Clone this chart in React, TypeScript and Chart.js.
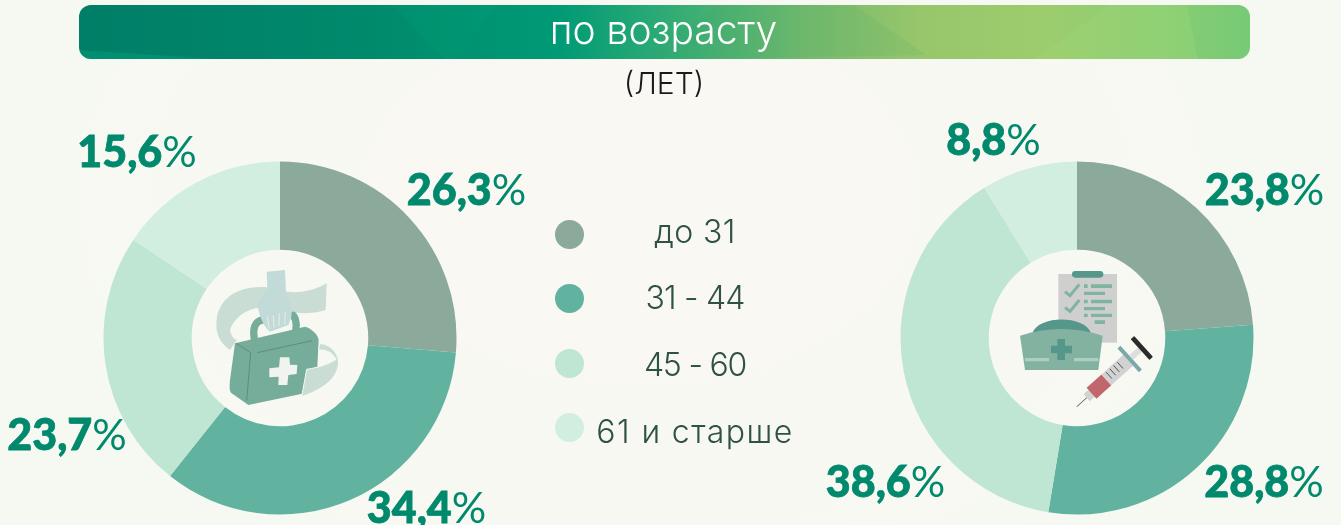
import React, { useEffect, useRef } from "react";
import { Chart, registerables } from "chart.js";

Chart.register(...registerables);

const titleText = "по возрасту";
const subtitleText = "(ЛЕТ)";
const categories = ["до 31", "31 - 44", "45 - 60", "61 и старше"];
const leftValues = [26.3, 34.4, 23.7, 15.6];
const rightValues = [23.8, 28.8, 38.6, 8.8];
const sliceColors = ["#8CAA9C", "#62B2A0", "#BFE5D3", "#D2EEE0"];

const leftLabelSpots = [[466.5, 188], [426.5, 506], [67, 433], [137, 150]];
const rightLabelSpots = [[1264.5, 188], [1264, 480], [885.5, 480], [993.5, 138]];
const legendRows = [234, 298, 363, 427];
const legendTextRows = [232, 298, 365, 432];
const legendTracking = [0.4, -0.8, -1.2, 1.4];

const FONT = "Lato, 'Open Sans', sans-serif";

function Donut({ values, cx }: { values: number[]; cx: number }) {
  const ref = useRef<HTMLCanvasElement>(null);
  useEffect(() => {
    const chart = new Chart(ref.current!, {
      type: "doughnut",
      data: {
        labels: categories,
        datasets: [{ data: values, backgroundColor: sliceColors, borderWidth: 0 }],
      },
      options: {
        animation: false,
        responsive: false,
        cutout: "50%",
        radius: 176.5,
        layout: { padding: 0 },
        plugins: { legend: { display: false }, tooltip: { enabled: false } },
      },
    });
    return () => chart.destroy();
  }, [values]);
  return (
    <canvas
      ref={ref}
      width={360}
      height={360}
      style={{ position: "absolute", left: cx - 180, top: 337.5 - 180, width: 360, height: 360 }}
    />
  );
}

function ValueLabel({ value, at }: { value: number; at: number[] }) {
  return (
    <div
      style={{
        position: "absolute",
        left: at[0],
        top: at[1],
        transform: "translate(-50%,-50%)",
        whiteSpace: "nowrap",
        color: "#00896D",
        fontSize: 43,
        lineHeight: "43px",
        fontFamily: FONT,
      }}
    >
      <span style={{ fontWeight: 900, WebkitTextStroke: "0.8px #00896D" }}>{value.toFixed(1).replace(".", ",")}</span>
      <span style={{ fontWeight: 400 }}>%</span>
    </div>
  );
}

function CaseIcon() {
  return (
    <svg viewBox="0 0 600 540" width={200} height={180} style={{ position: "absolute", left: 180, top: 250 }}>
      <path d="M440 100 L437 180 C380 197 330 190 290 172 C225 165 170 185 150 240 C155 262 165 272 172 268 L150 300 C120 280 105 250 110 210 C115 150 170 105 260 112 C330 135 390 130 440 100 Z" fill="#C9DDD5" />
      <path d="M225 275 C215 235 225 212 250 210 M343 258 C352 235 350 210 340 196" stroke="#76AD9A" strokeWidth="22" fill="none" strokeLinecap="round" />
      <path d="M260 65 L315 60 L318 130 C335 170 340 190 330 212 L325 225 L270 245 C250 230 235 190 233 165 C240 145 258 120 262 115 Z" fill="#C2DAD8" />
      <path d="M262 200 L268 238 M280 195 L282 232 M298 190 L297 228 M316 185 L314 222" stroke="#E6EFEA" strokeWidth="3" />
      <path d="M165 280 L375 230 C395 235 415 255 416 270 L412 350 L395 425 L205 465 L155 430 C148 425 148 410 150 390 Z" fill="#76AD9A" />
      <path d="M168 280 L212 308 L200 452 M232 308 L396 272" stroke="#55796C" strokeWidth="2" fill="none" />
      <path d="M300 322 L328 322 L330 344 L352 345 L350 372 L325 375 L322 405 L295 405 L296 380 L268 382 L268 355 L297 352 Z" fill="#F1F3EF" />
      <path d="M420 280 C460 285 480 320 475 345 C470 380 440 415 365 440 L380 358 C420 352 450 340 468 328 C455 305 440 300 415 300 Z" fill="#C9DDD5" stroke="#F6F9F2" strokeWidth="3" />
    </svg>
  );
}

function NurseIcon() {
  return (
    <svg viewBox="0 0 600 540" width={200} height={180} style={{ position: "absolute", left: 980, top: 250 }}>
      <rect x="235" y="72" width="176" height="206" fill="#CFCFCF" />
      <rect x="276" y="63" width="94" height="20" rx="10" fill="#55978A" />
      <path d="M255 125 L270 137 L298 103 M255 172 L270 184 L298 150" stroke="#7FB4A0" strokeWidth="9" fill="none" />
      <path d="M312 103 h11 v11 h-11 z M333 103 h63 v11 h-63 z M312 125 h63 v10 h-63 z M312 149 h11 v11 h-11 z M333 149 h63 v11 h-63 z M312 171 h63 v10 h-63 z M312 191 h11 v10 h-11 z M333 191 h63 v10 h-63 z M344 211 h31 v11 h-31 z" fill="#7FB4A0" />
      <path d="M157 250 C175 195 315 195 333 250 Z" fill="#55978A" />
      <path d="M120 257 C200 230 290 230 368 257 L355 360 L135 360 Z" fill="#83B3A0" />
      <path d="M232 267 h23 v20 h21 v23 h-21 v20 h-23 v-20 h-19 v-23 h19 z" fill="#55978A" />
      <path d="M135 324 h72 v10 h-72 z M282 324 h73 v10 h-73 z" fill="#ABCFC3" />
      <g transform="translate(290 470) rotate(-42)">
        <rect x="0" y="-1" width="48" height="2.5" fill="#555" />
        <rect x="40" y="-14" width="28" height="28" fill="#D2D2D2" />
        <rect x="60" y="-22" width="60" height="44" fill="#C0666C" />
        <rect x="120" y="-22" width="88" height="44" fill="#D2D2D2" />
        <path d="M135 -18 v26 M150 -18 v26 M165 -18 v26 M180 -18 v26" stroke="#444" strokeWidth="2.5" />
        <rect x="208" y="-48" width="12" height="96" fill="#7BA8A8" />
        <rect x="220" y="-9" width="38" height="18" fill="#DEDEDE" />
        <rect x="256" y="-42" width="14" height="84" rx="2" fill="#2B2B2B" />
      </g>
    </svg>
  );
}

function BannerFacets() {
  return (
    <svg viewBox="0 0 1171 54" width={1171} height={54} style={{ position: "absolute", left: 0, top: 0 }}>
      <polygon points="0,45 0,54 135,54" fill="#00A57E" opacity="0.45" />
      <polygon points="314,0 417,0 378,54 365,54" fill="#00A47C" opacity="0.18" />
      <polygon points="775,0 847,50 560,54 640,0" fill="#3C9A5E" opacity="0.1" />
      <polygon points="954,54 1031,0 1108,0 1119,54" fill="#A4DA7A" opacity="0.22" />
      <polygon points="1108,0 1171,0 1171,54 1119,54" fill="#6FC878" opacity="0.12" />
    </svg>
  );
}

export default function App() {
  return (
    <div
      style={{
        position: "fixed",
        left: 0,
        top: 0,
        width: 1341,
        height: 525,
        overflow: "hidden",
        background: "radial-gradient(ellipse 620px 420px at 640px 200px, #FAF8F3 0%, #F8F8F2 60%, #F6F9F2 100%)",
      }}
    >
      <div
        style={{
          position: "absolute",
          left: 79,
          top: 5,
          width: 1171,
          height: 54,
          borderRadius: 12,
          overflow: "hidden",
          background:
            "linear-gradient(90deg, #007E67 0%, #008A6C 25%, #009A76 41%, #2EAB75 50%, #73BB6E 62%, #98C66B 72%, #9DCC6E 82%, #8BCF72 92%, #7ACB74 100%)",
        }}
      >
        <BannerFacets />
        <div style={{ position: "absolute", left: -1, right: 1, top: 0, bottom: 0, textAlign: "center", color: "#FFFFFF", fontFamily: "Inter, sans-serif", fontWeight: 300, fontSize: 39, lineHeight: "50px" }}>
          {titleText}
        </div>
      </div>
      <div style={{ position: "absolute", left: 464, width: 400, top: 61, textAlign: "center", color: "#1A1A1A", fontFamily: "Inter, sans-serif", fontWeight: 300, fontSize: 30, lineHeight: "44px" }}>
        {subtitleText}
      </div>

      <Donut values={leftValues} cx={280} />
      <Donut values={rightValues} cx={1077} />
      <CaseIcon />
      <NurseIcon />

      {leftValues.map((v, i) => (
        <ValueLabel key={"l" + i} value={v} at={leftLabelSpots[i]} />
      ))}
      {rightValues.map((v, i) => (
        <ValueLabel key={"r" + i} value={v} at={rightLabelSpots[i]} />
      ))}

      {categories.map((c, i) => (
        <React.Fragment key={c}>
          <div style={{ position: "absolute", left: 554.5, top: legendRows[i] - 14.5, width: 29, height: 29, borderRadius: "50%", background: sliceColors[i] }} />
          <div
            style={{
              position: "absolute",
              left: 695,
              top: legendTextRows[i],
              transform: "translate(-50%,-50%)",
              whiteSpace: "nowrap",
              color: "#2F5245",
              fontFamily: "Inter, sans-serif",
              fontWeight: 300,
              fontSize: 32,
              lineHeight: "36px",
              letterSpacing: legendTracking[i],
            }}
          >
            {c}
          </div>
        </React.Fragment>
      ))}
    </div>
  );
}
